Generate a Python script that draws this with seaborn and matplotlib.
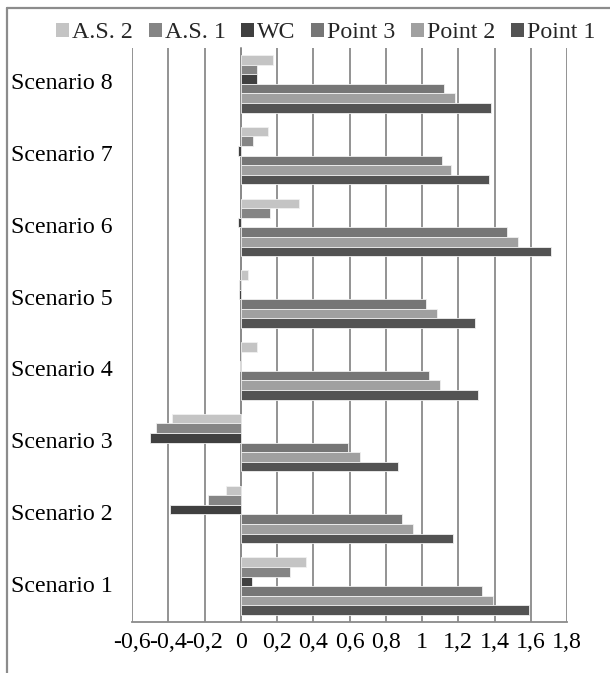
import matplotlib
matplotlib.use("Agg")
import matplotlib.pyplot as plt
from matplotlib.lines import Line2D
from matplotlib.patches import Rectangle
from matplotlib.ticker import FixedLocator, FuncFormatter
import numpy as np
import pandas as pd
import seaborn as sns

# Scenario results for each measurement series
scenarios = ["Scenario 1", "Scenario 2", "Scenario 3", "Scenario 4",
             "Scenario 5", "Scenario 6", "Scenario 7", "Scenario 8"]
point_1 = [1.59, 1.17, 0.87, 1.31, 1.29, 1.71, 1.37, 1.38]
point_2 = [1.39, 0.95, 0.66, 1.10, 1.08, 1.53, 1.16, 1.18]
point_3 = [1.33, 0.89, 0.59, 1.04, 1.02, 1.47, 1.11, 1.12]
wc = [0.06, -0.39, -0.50, -0.005, -0.01, -0.015, -0.015, 0.09]
as_1 = [0.27, -0.18, -0.47, 0.0, -0.01, 0.16, 0.07, 0.09]
as_2 = [0.36, -0.08, -0.38, 0.09, 0.04, 0.32, 0.15, 0.18]

series_names = ["A.S. 2", "A.S. 1", "WC", "Point 3", "Point 2", "Point 1"]
series_values = [as_2, as_1, wc, point_3, point_2, point_1]
colors = ["#c4c4c4", "#858585", "#404040", "#767676", "#a0a0a0", "#535353"]
x_ticks = [-0.6, -0.4, -0.2, 0, 0.2, 0.4, 0.6, 0.8, 1, 1.2, 1.4, 1.6, 1.8]

rows = []
for name, vals in zip(series_names, series_values):
    for sc, v in zip(scenarios, vals):
        rows.append({"scenario": sc, "series": name, "value": v})
df = pd.DataFrame(rows)

sns.set_style("white")
plt.rcParams["font.family"] = ["Liberation Serif", "DejaVu Serif"]
FS = 17.2

W, H = 610, 673
fig = plt.figure(figsize=(W / 100, H / 100), dpi=100)
ax = fig.add_axes([132 / W, 1 - 622 / H, (567 - 132) / W, (622 - 48) / H])

order = scenarios[::-1]
palette = dict(zip(series_names, colors))
sns.barplot(data=df, y="scenario", x="value", hue="series", order=order,
            hue_order=series_names, palette=palette, orient="h", width=0.8,
            saturation=1, edgecolor="#f0f0f0", linewidth=0.6, legend=False,
            errorbar=None, ax=ax, zorder=3)

grid_c = "#8a8a8a"
ax.set_xlim(-0.6, 1.8)
ax.set_ylim(len(order) - 0.5, -0.5)
ax.set_xticks(x_ticks)
ax.xaxis.set_major_formatter(FuncFormatter(
    lambda v, p: ("%g" % round(v, 1)).replace(".", ",")))
ax.tick_params(axis="x", length=6, width=1.2, color=grid_c, direction="out",
               labelsize=FS, pad=1, labelcolor="black")
for xv in x_ticks:
    ax.axvline(xv, color=grid_c, lw=1.3, zorder=1)

# vertical axis crosses at zero, with tick marks at category boundaries
ax.spines["left"].set_position(("data", 0))
ax.spines["left"].set_color(grid_c)
ax.spines["left"].set_linewidth(1.2)
ax.spines["left"].set_zorder(2)
ax.yaxis.set_major_locator(FixedLocator(np.arange(-0.5, len(order), 1.0)))
ax.tick_params(axis="y", length=6, width=1.2, color=grid_c, direction="out",
               labelleft=False)
ax.spines["bottom"].set_color(grid_c)
ax.spines["bottom"].set_linewidth(1.3)
for s in ("top", "right"):
    ax.spines[s].set_visible(False)
ax.set_xlabel("")
ax.set_ylabel("")

# category names sit to the left of the plotting area
trans = ax.get_yaxis_transform()
for i, sc in enumerate(order):
    ax.text(-0.045, i, sc, transform=trans, ha="right", va="center",
            fontsize=FS, color="black")

handles = [Rectangle((0, 0), 1, 1, facecolor=c, edgecolor="none") for c in colors]
fig.legend(handles, series_names, loc="center", bbox_to_anchor=(0.534, 1 - 33 / H),
           ncol=6, frameon=False, fontsize=FS, handlelength=0.55,
           handleheight=0.55, handletextpad=0.12, columnspacing=0.65,
           borderaxespad=0, borderpad=0)

# outer chart frame
fig.add_artist(Line2D([7 / W, 1], [1 - 8 / H, 1 - 8 / H], transform=fig.transFigure,
                      color="#8c8c8c", lw=1.6))
fig.add_artist(Line2D([7 / W, 7 / W], [0, 1 - 8 / H], transform=fig.transFigure,
                      color="#8c8c8c", lw=1.6))

fig.savefig("out.png", dpi=100, facecolor="white")
